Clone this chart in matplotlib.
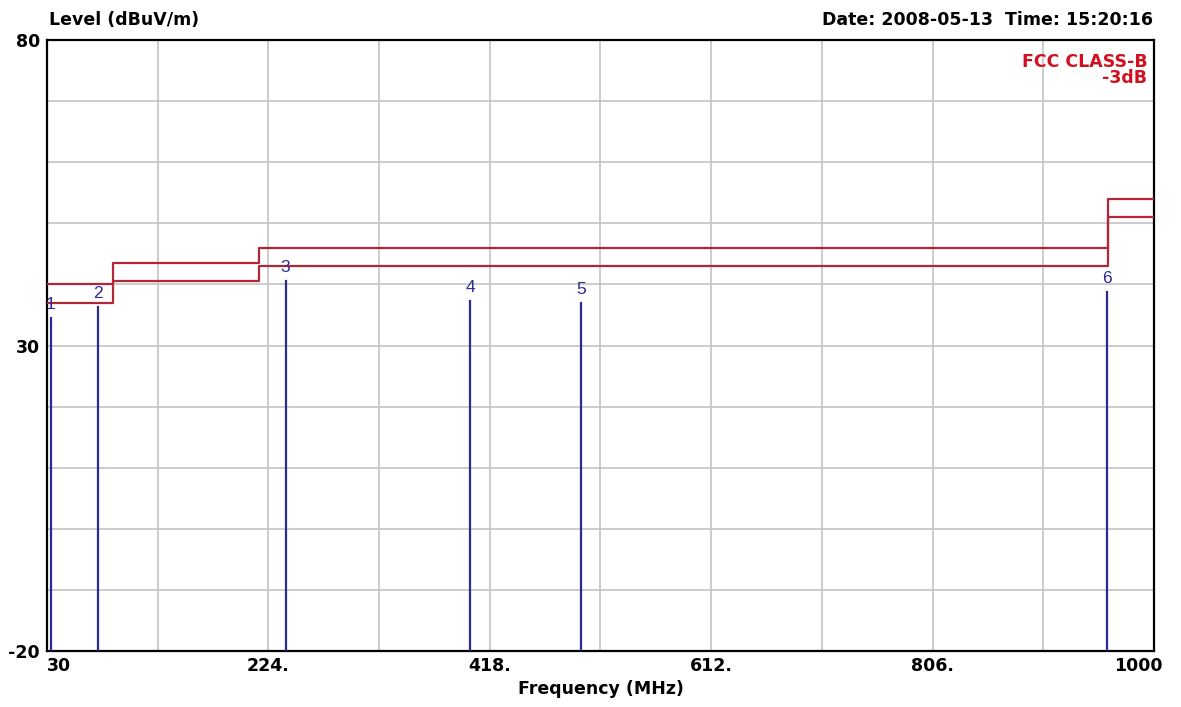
import numpy as np
import matplotlib.pyplot as plt
from matplotlib.transforms import ScaledTranslation

plt.rcParams['font.family'] = ['DejaVu Sans']

# FCC class B limit (step at each freq) and -3dB margin line
limit_freq = [30, 88, 216, 960, 1000]
limit_level = [40, 43.5, 46, 54, 54]
margin_level = [37, 40.5, 43, 51, 51]

# measured peaks
marker_id = ['1', '2', '3', '4', '5', '6']
marker_freq = [33.2, 75, 239, 401, 498, 959]
marker_level = [34.5, 36.3, 40.6, 37.3, 37.0, 38.8]

grid_x = np.arange(30, 1001, 97)
xtick_labels = ['30', '', '224.', '', '418.', '', '612.', '', '806.', '', '1000']
grid_y = np.arange(-20, 81, 10)
ytick_labels = ['-20', '', '', '', '', '30', '', '', '', '', '80']

fig = plt.figure(figsize=(11.81, 7.07), dpi=100)
ax = fig.add_axes([0.0398, 0.0792, 0.9373, 0.8642])

red = '#b02838'
blue = '#2b2b96'
bold = dict(fontsize=12.5, fontweight='bold')

ax.step(limit_freq, limit_level, where='post', color=red, lw=1.6, zorder=3)
ax.step(limit_freq, margin_level, where='post', color=red, lw=1.6, zorder=3)

for m, f, v in zip(marker_id, marker_freq, marker_level):
    ax.plot([f, f], [-20, v], color=blue, lw=1.6, zorder=4)
    ax.annotate(m, (f, v), xytext=(0, 4), textcoords='offset points',
                ha='center', va='bottom', color=blue, fontsize=12.5, zorder=5,
                family='Liberation Sans', annotation_clip=False)

ax.set_xlim(30, 1000)
ax.set_ylim(-20, 80)
ax.set_xticks(grid_x)
ax.set_xticklabels(xtick_labels, **bold)
ax.set_yticks(grid_y)
ax.set_yticklabels(ytick_labels, **bold)
ax.tick_params(axis='x', length=0, pad=4)
ax.tick_params(axis='y', length=0, pad=5)
xl = ax.get_xticklabels()
xl[0].set_horizontalalignment('left')
xl[-1].set_horizontalalignment('right')
xl[-1].set_transform(xl[-1].get_transform() + ScaledTranslation(0.09, 0, fig.dpi_scale_trans))
ax.grid(True, color='#c4c4c4', lw=1.2)
ax.set_axisbelow(True)
for s in ax.spines.values():
    s.set_linewidth(1.6)
    s.set_color('black')

ax.set_xlabel('Frequency (MHz)', labelpad=4, **bold)
fig.text(0.0415, 0.972, 'Level (dBuV/m)', va='center', **bold)
fig.text(0.976, 0.972, 'Date: 2008-05-13  Time: 15:20:16',
         va='center', ha='right', **bold)
ax.text(0.994, 0.978, 'FCC CLASS-B\n-3dB', transform=ax.transAxes, ha='right',
        va='top', color='#d01020', linespacing=0.85, **bold)

fig.savefig('out.png', dpi=100)
